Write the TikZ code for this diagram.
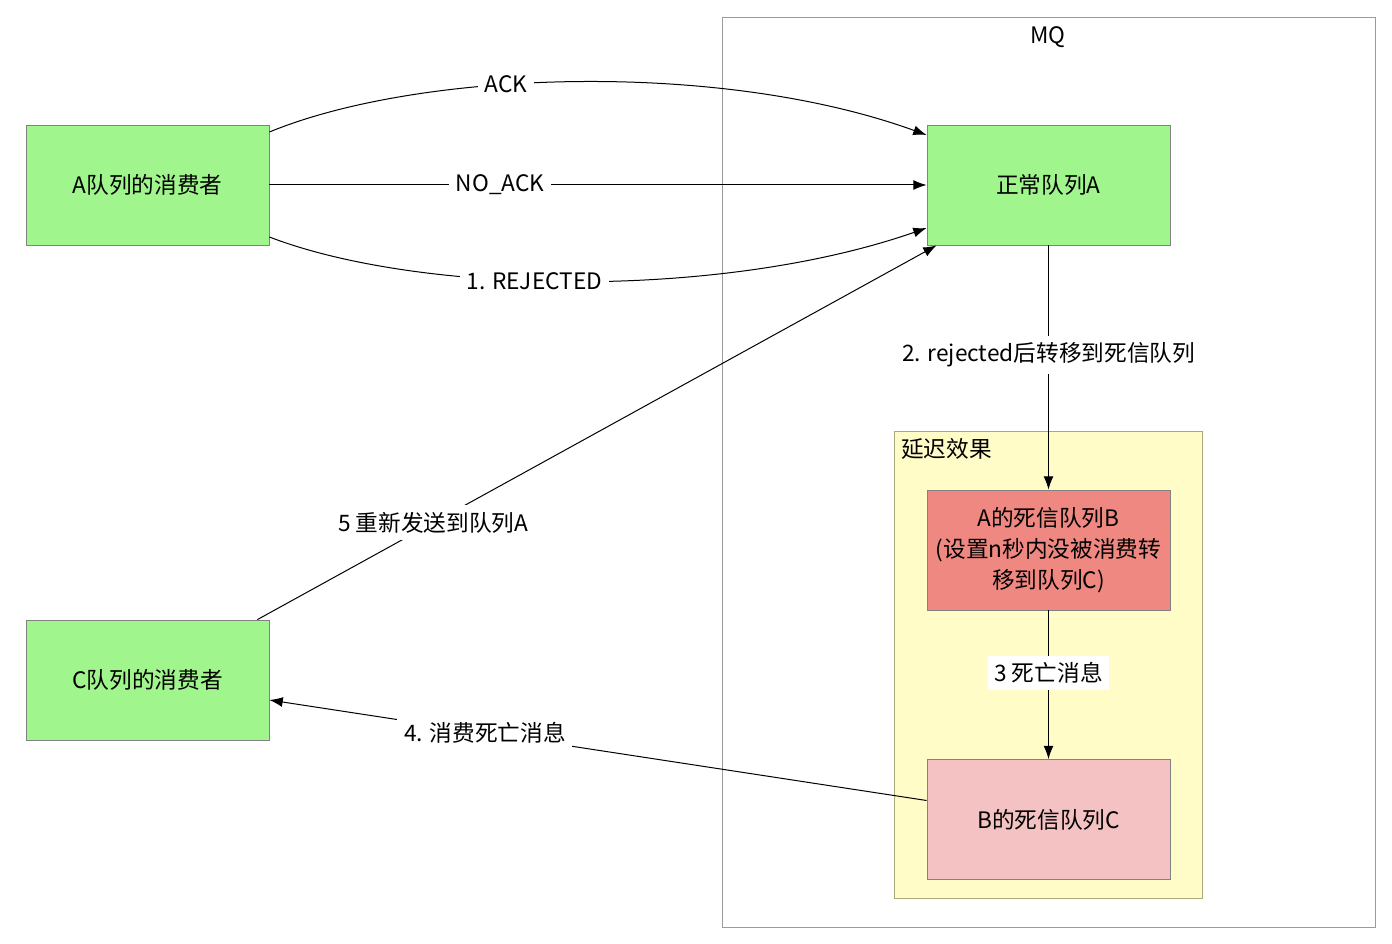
\documentclass[tikz,border=0pt]{standalone}
\usepackage{fontspec}
\setmainfont{Noto Sans CJK SC}
\usetikzlibrary{arrows.meta,calc}
\definecolor{qgreen}{RGB}{160,245,140}
\definecolor{qred}{RGB}{240,136,130}
\definecolor{qpink}{RGB}{244,194,194}
\definecolor{qyellow}{RGB}{255,252,200}
\definecolor{qborder}{RGB}{130,130,130}
\definecolor{ybord}{RGB}{170,170,120}
\begin{document}
\begin{tikzpicture}[x=0.75pt,y=-0.75pt,
  every node/.style={font=\fontsize{17}{23}\selectfont, inner sep=0pt},
  qbox/.style={draw=qborder, line width=0.6pt, minimum width=182.25pt, minimum height=90pt, align=center},
  conn/.style={line width=0.75pt, -{Latex[length=10pt,width=7.5pt]}},
  lbl/.style={fill=white, inner sep=5pt}]
\useasboundingbox (0,0) rectangle (1392,944);
% containers
\node[draw=qborder!80, line width=0.6pt, minimum width=489.75pt, minimum height=682.5pt, anchor=north west] (mq) at (722,17) {};
\node[anchor=north] (mqlbl) at (1048,26) {MQ};
\node[draw=ybord, fill=qyellow, line width=0.6pt, minimum width=231pt, minimum height=350.25pt, anchor=north west] (delay) at (894,431) {};
\node[anchor=north west] (delaylbl) at (901,438) {延迟效果};
% nodes
\node[qbox, fill=qgreen] (ac) at (147.5,185) {A队列的消费者};
\node[qbox, fill=qgreen] (qa) at (1048.5,185) {正常队列A};
\node[qbox, fill=qred] (qb) at (1048.5,550) {A的死信队列B\\(设置n秒内没被消费转\\移到队列C)};
\node[qbox, fill=qpink] (qc) at (1048.5,819.5) {B的死信队列C};
\node[qbox, fill=qgreen] (cc) at (147.5,680) {C队列的消费者};
% connectors
\draw[conn] ($(ac.east)+(0,-53)$) .. controls (420,70) and (720,60) .. ($(qa.west)+(0,-50)$)
  node[lbl,pos=0.4] {ACK};
\draw[conn] (ac.east) -- (qa.west) node[lbl,pos=0.351] {NO\_ACK};
\draw[conn] ($(ac.east)+(0,52)$) .. controls (420,295) and (720,300) .. ($(qa.west)+(0,43)$)
  node[lbl,pos=0.44] {1. REJECTED};
\draw[conn] (qa.south) -- (qb.north) node[lbl,pos=0.449] {2. rejected后转移到死信队列};
\draw[conn] (qb.south) -- (qc.north) node[lbl,pos=0.42] {3 死亡消息};
\draw[conn] ($(qc.west)+(0,-19)$) -- ($(cc.east)+(0,20)$) node[lbl,pos=0.672] {4. 消费死亡消息};
\draw[conn] ($(cc.north east)+(-12,0)$) -- ($(qa.south west)+(10,0)$) node[lbl,pos=0.259] {5 重新发送到队列A};
\end{tikzpicture}
\end{document}
